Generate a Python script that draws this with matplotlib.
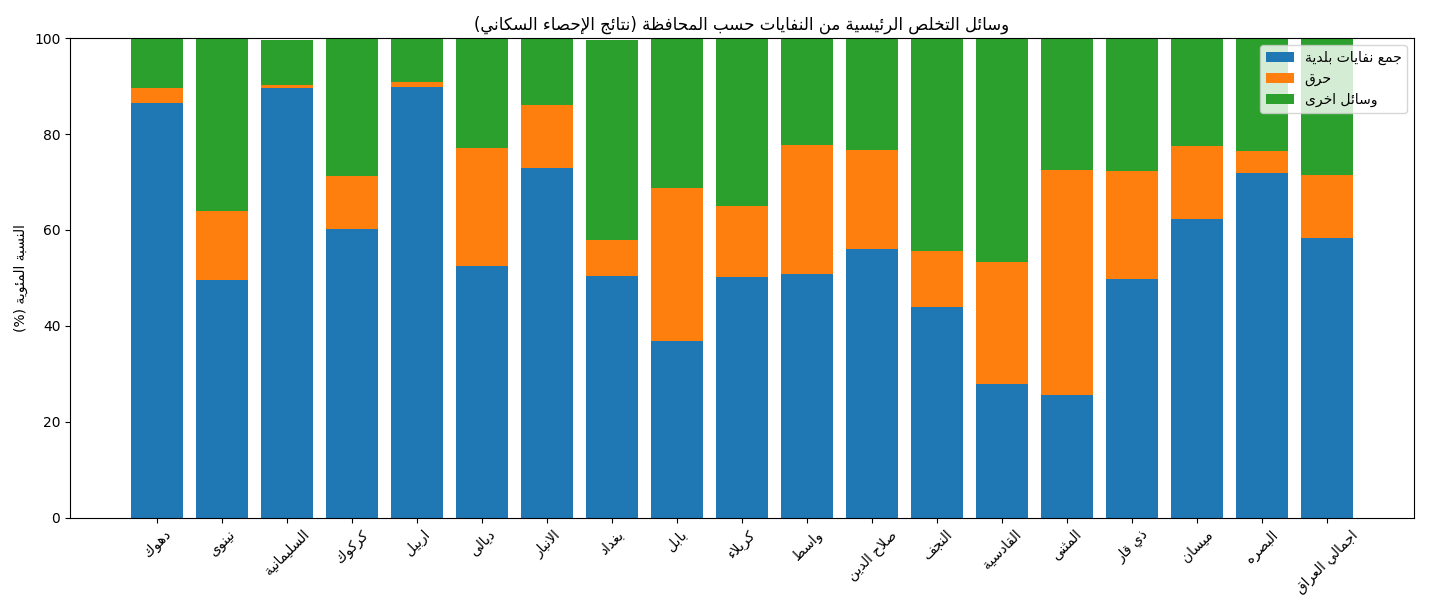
import matplotlib
matplotlib.use("Agg")
import matplotlib.pyplot as plt
import numpy as np

# ---------------- data ----------------
governorates = ["دهوك", "نينوى", "السليمانية", "كركوك", "اربيل", "ديالى", "الانبار",
                "بغداد", "بابل", "كربلاء", "واسط", "صلاح الدين", "النجف", "القادسية",
                "المثنى", "ذي قار", "ميسان", "البصره", "اجمالي العراق"]
municipal = [86.5, 49.6, 89.6, 60.2, 89.8, 52.6, 73.0, 50.5, 36.9, 50.2, 50.9, 56.0,
             44.0, 28.0, 25.6, 49.8, 62.3, 71.9, 58.3]
burning = [3.1, 14.4, 0.6, 11.1, 1.1, 24.5, 13.0, 7.5, 31.9, 14.9, 26.8, 20.7,
           11.6, 25.4, 46.9, 22.5, 15.2, 4.6, 13.2]
other = [10.4, 36.0, 9.4, 28.7, 9.1, 22.9, 14.0, 41.5, 31.2, 34.9, 22.3, 23.3,
         44.4, 46.6, 27.5, 27.7, 22.5, 23.5, 28.5]
series_names = ["جمع نفايات بلدية", "حرق", "وسائل اخرى"]
title_text = "وسائل التخلص الرئيسية من النفايات حسب المحافظة (نتائج الإحصاء السكاني)"
ylabel_text = "النسبة المئوية (%)"

# ---------------- simple Arabic shaping ----------------
FORMS = {  # isolated, final, initial, medial
    'ء': ('\uFE80', None, None, None),
    'آ': ('\uFE81', '\uFE82', None, None),
    'أ': ('\uFE83', '\uFE84', None, None),
    'ؤ': ('\uFE85', '\uFE86', None, None),
    'إ': ('\uFE87', '\uFE88', None, None),
    'ئ': ('\uFE89', '\uFE8A', '\uFE8B', '\uFE8C'),
    'ا': ('\uFE8D', '\uFE8E', None, None),
    'ب': ('\uFE8F', '\uFE90', '\uFE91', '\uFE92'),
    'ة': ('\uFE93', '\uFE94', None, None),
    'ت': ('\uFE95', '\uFE96', '\uFE97', '\uFE98'),
    'ث': ('\uFE99', '\uFE9A', '\uFE9B', '\uFE9C'),
    'ج': ('\uFE9D', '\uFE9E', '\uFE9F', '\uFEA0'),
    'ح': ('\uFEA1', '\uFEA2', '\uFEA3', '\uFEA4'),
    'خ': ('\uFEA5', '\uFEA6', '\uFEA7', '\uFEA8'),
    'د': ('\uFEA9', '\uFEAA', None, None),
    'ذ': ('\uFEAB', '\uFEAC', None, None),
    'ر': ('\uFEAD', '\uFEAE', None, None),
    'ز': ('\uFEAF', '\uFEB0', None, None),
    'س': ('\uFEB1', '\uFEB2', '\uFEB3', '\uFEB4'),
    'ش': ('\uFEB5', '\uFEB6', '\uFEB7', '\uFEB8'),
    'ص': ('\uFEB9', '\uFEBA', '\uFEBB', '\uFEBC'),
    'ض': ('\uFEBD', '\uFEBE', '\uFEBF', '\uFEC0'),
    'ط': ('\uFEC1', '\uFEC2', '\uFEC3', '\uFEC4'),
    'ظ': ('\uFEC5', '\uFEC6', '\uFEC7', '\uFEC8'),
    'ع': ('\uFEC9', '\uFECA', '\uFECB', '\uFECC'),
    'غ': ('\uFECD', '\uFECE', '\uFECF', '\uFED0'),
    'ف': ('\uFED1', '\uFED2', '\uFED3', '\uFED4'),
    'ق': ('\uFED5', '\uFED6', '\uFED7', '\uFED8'),
    'ك': ('\uFED9', '\uFEDA', '\uFEDB', '\uFEDC'),
    'ل': ('\uFEDD', '\uFEDE', '\uFEDF', '\uFEE0'),
    'م': ('\uFEE1', '\uFEE2', '\uFEE3', '\uFEE4'),
    'ن': ('\uFEE5', '\uFEE6', '\uFEE7', '\uFEE8'),
    'ه': ('\uFEE9', '\uFEEA', '\uFEEB', '\uFEEC'),
    'و': ('\uFEED', '\uFEEE', None, None),
    'ى': ('\uFEEF', '\uFEF0', None, None),
    'ي': ('\uFEF1', '\uFEF2', '\uFEF3', '\uFEF4'),
}
LAMALEF = {'آ': ('\uFEF5', '\uFEF6'), 'أ': ('\uFEF7', '\uFEF8'),
           'إ': ('\uFEF9', '\uFEFA'), 'ا': ('\uFEFB', '\uFEFC')}
MIRROR = {'(': ')', ')': '(', '[': ']', ']': '['}


def shape(text):
    chars = list(text)
    tokens = []
    i = 0
    while i < len(chars):
        c = chars[i]
        if c == 'ل' and i + 1 < len(chars) and chars[i + 1] in LAMALEF:
            tokens.append(('LA', chars[i + 1]))
            i += 2
        else:
            tokens.append(c)
            i += 1
    res = []
    for k, t in enumerate(tokens):
        prev = tokens[k - 1] if k > 0 else None
        nxt = tokens[k + 1] if k + 1 < len(tokens) else None
        prev_joins = isinstance(prev, str) and prev in FORMS and FORMS[prev][2] is not None
        if isinstance(t, tuple):
            iso, fin = LAMALEF[t[1]]
            res.append(fin if prev_joins else iso)
            continue
        if t not in FORMS:
            res.append(t)
            continue
        iso, fin, ini, med = FORMS[t]
        next_ok = isinstance(nxt, tuple) or (isinstance(nxt, str) and nxt in FORMS and nxt != 'ء')
        join_next = ini is not None and next_ok
        if prev_joins and join_next:
            res.append(med)
        elif prev_joins:
            res.append(fin)
        elif join_next:
            res.append(ini)
        else:
            res.append(iso)
    out = ''.join(res)[::-1]
    return ''.join(MIRROR.get(c, c) for c in out)


# ---------------- plot ----------------
plt.rcParams['font.family'] = ['DejaVu Sans']
fig, ax = plt.subplots(figsize=(14.3, 6.13), dpi=100)
fig.subplots_adjust(left=0.049, right=0.9888, top=0.938, bottom=0.155)

x = np.arange(len(governorates))
mun = np.array(municipal)
bur = np.array(burning)
oth = np.array(other)

ax.bar(x, mun, 0.8, color='#1f77b4', label=shape(series_names[0]))
ax.bar(x, bur, 0.8, bottom=mun, color='#ff7f0e', label=shape(series_names[1]))
ax.bar(x, oth, 0.8, bottom=mun + bur, color='#2ca02c', label=shape(series_names[2]))

ax.set_ylim(0, 100)
ax.set_xticks(x)
ax.set_xticklabels([shape(g) for g in governorates], rotation=45)
ax.set_ylabel(shape(ylabel_text))
ax.set_title(shape(title_text))
ax.legend(loc='upper right')

fig.savefig("out.png", dpi=100)
